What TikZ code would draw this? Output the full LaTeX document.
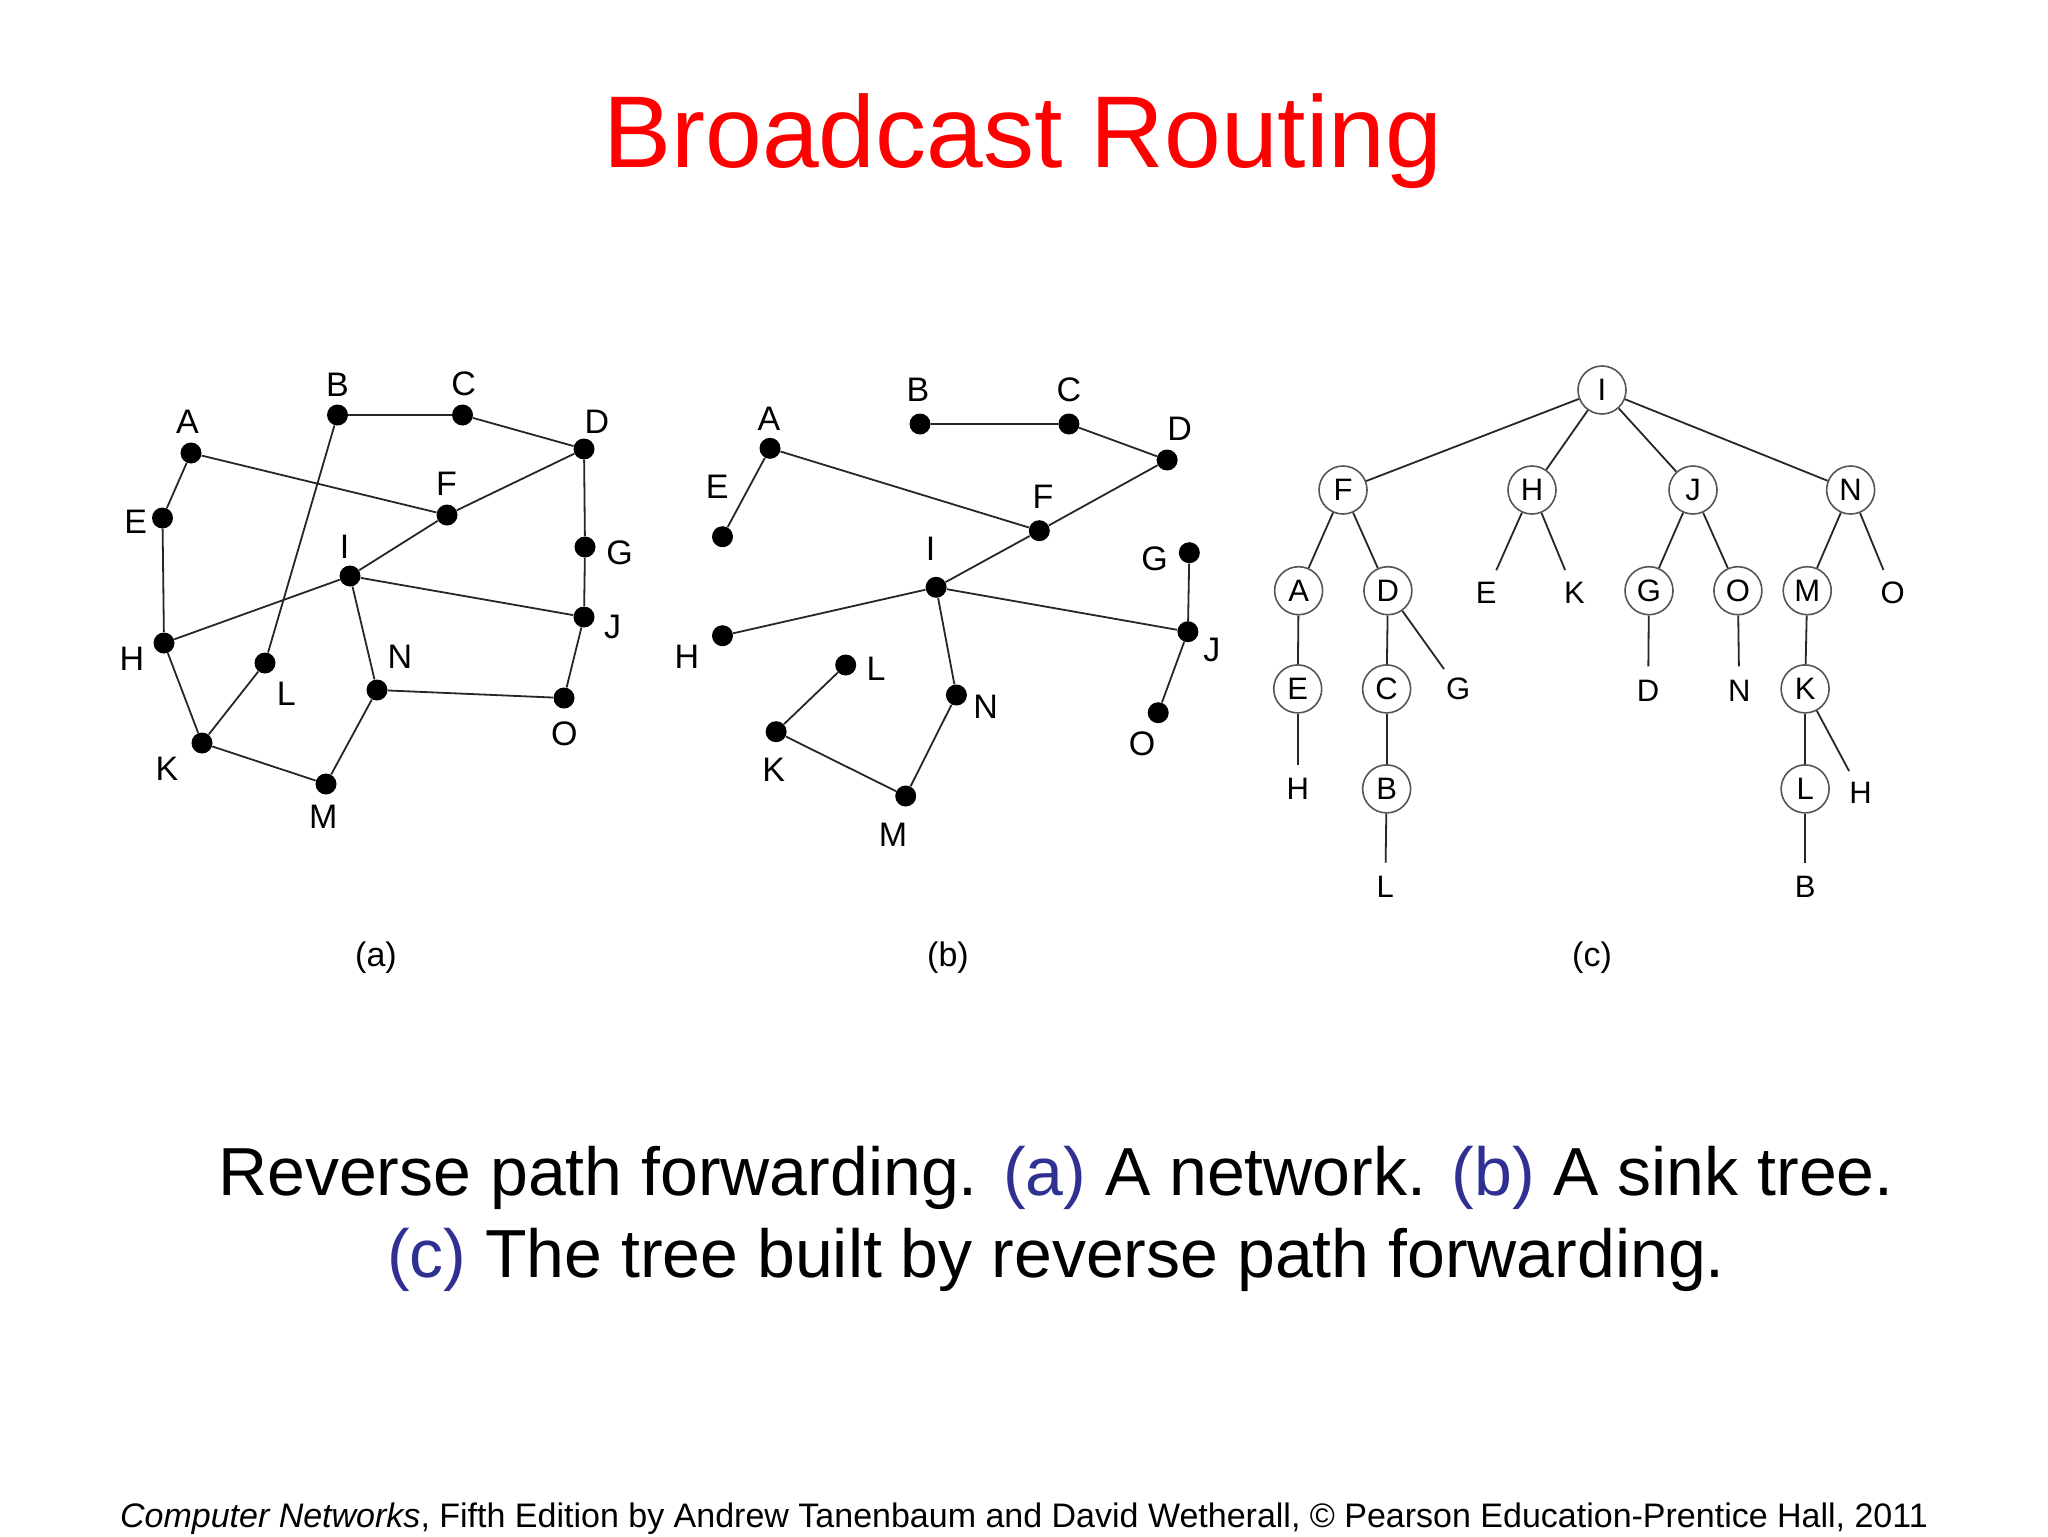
\documentclass[tikz,border=0pt]{standalone}
\usepackage{fontspec}
\setmainfont{Liberation Sans}
\usepackage{xcolor}
\usepackage{tikz}
\definecolor{TitleRed}{HTML}{FF0000}
\definecolor{CapBlue}{HTML}{2E3192}
\definecolor{Ring}{HTML}{555555}

\begin{document}
\begin{tikzpicture}[x=0.5pt,y=-0.5pt,
  dot/.style={circle,fill=black,inner sep=0pt,minimum size=10.5pt},
  lbl/.style={inner sep=0pt,font=\fontsize{17}{20}\selectfont},
  link/.style={draw=black!85,line width=0.9pt},
  vtx/.style={circle,draw=Ring,line width=0.8pt,inner sep=0pt,minimum size=24pt,font=\fontsize{15.5}{18}\selectfont},
  leaf/.style={circle,inner sep=0pt,minimum size=24pt,font=\fontsize{15.5}{18}\selectfont},
  sub/.style={inner sep=0pt,font=\fontsize{17}{20}\selectfont}
]
\fill[white] (0,0) rectangle (2048,1536);
\useasboundingbox (0,0) rectangle (2048,1536);

\node[font=\fontsize{51}{60}\selectfont,text=TitleRed,anchor=base] (title) at (1023,167) {Broadcast Routing};

% (a) the network
\foreach \n/\x/\y in {A/191/453,B/337.5/415,C/462.5/415,D/584/449,E/162.5/518,F/447/515,G/585/547,I/350/576,J/584/617,H/164/643,L/265/663,N/377/690,O/564/698,K/202/743,M/326/784}
  \node[dot] (a\n) at (\x,\y) {};
\foreach \n/\x/\y in {A/187.5/421.7,B/337.5/385,C/463.6/383.3,D/597/421.7,E/135.7/521.7,F/446.4/483.3,G/619.6/552.7,I/344.6/546.7,J/612.5/626.7,H/132/658.3,L/286.4/693.3,N/400/656.7,O/564.3/733.3,K/167/768.3,M/323.2/816.7}
  \node[lbl] (la\n) at (\x,\y) {\n};
\foreach \u/\v in {B/C,C/D,D/G,G/J,A/F,A/E,E/H,F/D,F/I,I/H,I/J,I/N,B/L,L/K,H/K,K/M,M/N,N/O,O/J}
  \draw[link] (a\u) -- (a\v);

% (b) the sink tree
\foreach \n/\x/\y in {A/770/448.3,B/920/424,C/1068.9/424,D/1167.1/460,E/722.5/536.7,F/1039.3/530.7,G/1189.3/552.7,I/936.1/587.3,J/1187.9/631.7,H/722.5/635.7,L/845.7/665,N/956.4/695,O/1158.2/712.7,K/776.1/731.7,M/905.7/796}
  \node[dot] (b\n) at (\x,\y) {};
\foreach \n/\x/\y in {A/768.9/418.3,B/917.9/390,C/1068.9/390,D/1179.6/428.3,E/717.1/486.7,F/1042.9/496.7,G/1154.6/558.3,I/930.7/548.3,J/1211.8/650,H/686.8/656.7,L/876.1/668.3,N/985.7/706.7,O/1142.1/743.3,K/773.6/769.3,M/892.9/835}
  \node[lbl] (lb\n) at (\x,\y) {\n};
\foreach \u/\v in {B/C,C/D,D/F,A/F,A/E,F/I,I/H,I/J,I/N,N/M,M/K,K/L,G/J,J/O}
  \draw[link] (b\u) -- (b\v);

% (c) the reverse path forwarding tree
\foreach \n/\t/\x/\y in {I/I/1602/390,F/F/1343/490,H/H/1532/490,J/J/1693/490,N/N/1850.6/490,A/A/1298.6/590.7,D/D/1387.9/590.7,G/G/1649/590.7,O/O/1737.9/590.7,M/M/1807.2/590.7,E/E/1297.7/688.9,C/C/1386.6/688.9,K/K/1805.1/688.9,B/B/1386.6/788.9,L/L/1805.1/788.9}
  \node[vtx] (c\n) at (\x,\y) {\t};
\foreach \n/\t/\x/\y in {Ea/E/1486.3/592.6,Ka/K/1574.4/592.6,Oa/O/1892.7/592.6,Ga/G/1458.2/688.9,Da/D/1648.1/690.7,Na/N/1739.2/690.7,Ha/H/1297.7/788.9,Hb/H/1860.6/792.6,La/L/1385.3/887,Ba/B/1805.1/887}
  \node[leaf] (c\n) at (\x,\y) {\t};
\foreach \u/\v in {I/F,I/H,I/J,I/N,F/A,F/D,H/Ea,H/Ka,J/G,J/O,N/M,N/Oa,A/E,D/C,D/Ga,G/Da,O/Na,M/K,E/Ha,C/B,K/L,K/Hb,B/La,L/Ba}
  \draw[link] (c\u) -- (c\v);

\node[sub] (capa) at (376,958) {(a)};
\node[sub] (capb) at (948,958) {(b)};
\node[sub] (capc) at (1592,958) {(c)};

\node[font=\fontsize{34}{41}\selectfont,align=center,anchor=base] (caption) at (1056,1277) {Reverse path forwarding. \textcolor{CapBlue}{(a)} A network. \textcolor{CapBlue}{(b)} A sink tree.\\\textcolor{CapBlue}{(c)} The tree built by reverse path forwarding.};

\node[font=\fontsize{17}{20}\selectfont,anchor=base] (credit) at (1024,1527) {\textit{Computer Networks}, Fifth Edition by Andrew Tanenbaum and David Wetherall, © Pearson Education-Prentice Hall, 2011};
\end{tikzpicture}
\end{document}
